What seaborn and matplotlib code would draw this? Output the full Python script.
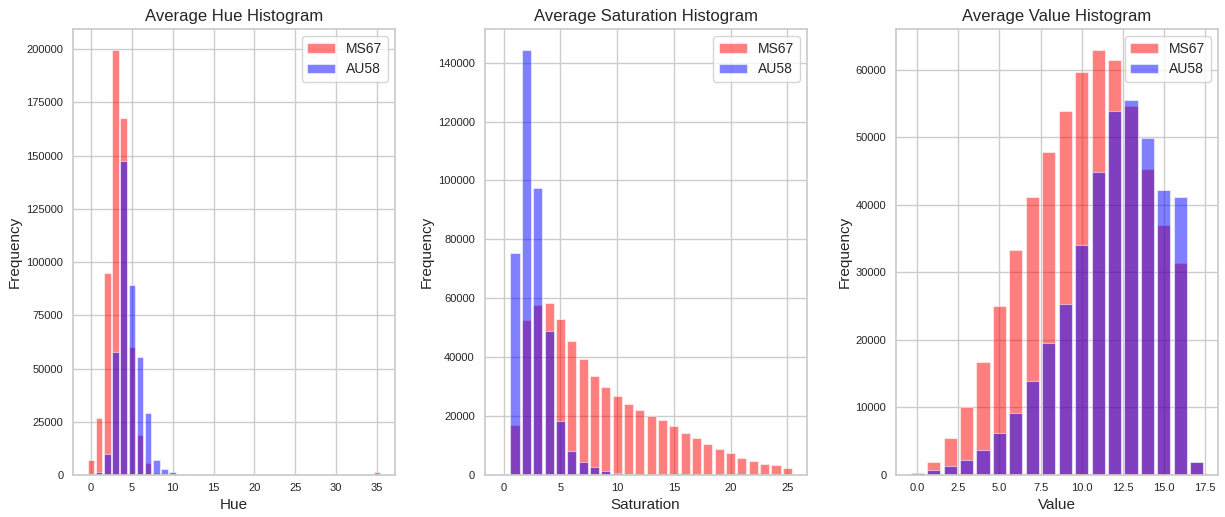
import numpy as np
import pandas as pd
import matplotlib
matplotlib.use("Agg")
import matplotlib.pyplot as plt
import seaborn as sns

# ---- data ----
hue_bins = list(range(0, 36))
hue_ms67 = [7000, 27000, 95000, 199500, 167800, 60000, 19000, 5500, 1000, 300,
            200, 100, 50, 0, 0, 0, 0, 0, 0, 0,
            0, 0, 0, 0, 0, 0, 0, 0, 0, 0,
            0, 0, 0, 0, 400, 1600]
hue_au58 = [300, 1600, 10000, 57700, 147400, 89400, 55300, 29100, 7200, 3000,
            1200, 400, 300, 0, 0, 0, 0, 0, 0, 0,
            0, 0, 0, 0, 0, 0, 0, 0, 0, 0,
            0, 0, 0, 0, 0, 0]

sat_bins = list(range(0, 26))
sat_ms67 = [0, 16900, 52500, 57600, 58500, 52800, 45400, 39400, 33500, 29750,
            26700, 24100, 22100, 20200, 18700, 16500, 14400, 12400, 10400, 8700,
            7400, 5900, 4700, 3750, 3300, 2500]
sat_au58 = [0, 75300, 144200, 97600, 48800, 18400, 8300, 4500, 2600, 1300,
            700, 400, 150, 0, 0, 0, 0, 0, 0, 0,
            0, 0, 0, 0, 0, 0]

val_bins = list(range(0, 18))
val_ms67 = [250, 2000, 5450, 10040, 16670, 25070, 33330, 41150, 47870, 53800,
            59640, 62860, 61420, 54600, 45350, 36940, 31400, 2000]
val_au58 = [350, 700, 1300, 2150, 3750, 6180, 9150, 13900, 19530, 25370,
            34030, 44860, 53860, 55540, 49900, 42190, 41150, 2000]

series_names = ["MS67", "AU58"]
panels = [
    ("Average Hue Histogram", "Hue", hue_bins, hue_ms67, hue_au58),
    ("Average Saturation Histogram", "Saturation", sat_bins, sat_ms67, sat_au58),
    ("Average Value Histogram", "Value", val_bins, val_ms67, val_au58),
]
colors = ["red", "blue"]

# ---- style ----
sns.set_theme(style="whitegrid")
plt.rcParams["font.family"] = ["Liberation Sans", "DejaVu Sans"]
plt.rcParams["text.color"] = ".15"
plt.rcParams["axes.labelcolor"] = ".15"

fig, axes = plt.subplots(1, 3, figsize=(12.25, 5.17), dpi=100)
fig.subplots_adjust(left=0.0596, right=0.9943, bottom=0.0812, top=0.9439, wspace=0.278)

for ax, (title, xlabel, bins, a, b) in zip(axes, panels):
    for vals, name, col in zip([a, b], series_names, colors):
        sns.histplot(x=bins, weights=vals, discrete=True, shrink=0.8,
                     color=col, alpha=0.5, edgecolor=(1, 1, 1, 0.5), linewidth=0.8,
                     label=name, ax=ax)
    ax.set_title(title, fontsize=12)
    ax.set_xlabel(xlabel, fontsize=11, labelpad=3)
    ax.set_ylabel("Frequency", fontsize=11, labelpad=3)
    ax.tick_params(axis="both", labelsize=8, length=0)
    ax.tick_params(axis="y", pad=7)
    ax.tick_params(axis="x", pad=6)
    ax.legend(loc="upper right", fontsize=10)

fig.savefig("out.png", dpi=100)
